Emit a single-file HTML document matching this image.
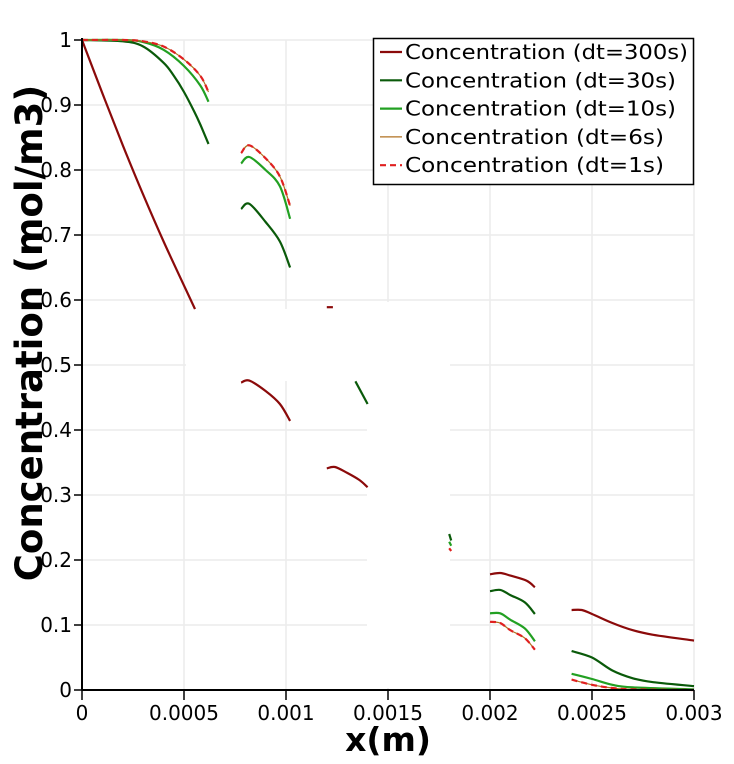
<!DOCTYPE html>
<html><head><meta charset="utf-8">
<style>
html,body{margin:0;padding:0;background:#fff;}
svg{display:block;font-family:"DejaVu Sans","Liberation Sans",sans-serif;}
</style></head>
<body>
<svg id="chart" width="734" height="764" viewBox="0 0 734 764" xmlns="http://www.w3.org/2000/svg">
  <g id="grid"></g>
  <g id="masks">
    <rect x="186" y="309" width="181" height="72" fill="#fff"/>
    <rect x="367" y="302" width="83" height="386" fill="#fff"/>
  </g>
  <g id="series"></g>
  <g id="axes"></g>
  <text x="388" y="751" text-anchor="middle" font-size="33" font-weight="bold" font-family="DejaVu Sans, sans-serif">x(m)</text>
  <text transform="translate(42,333) rotate(-90)" text-anchor="middle" font-size="37" font-weight="bold" font-family="DejaVu Sans, sans-serif">Concentration (mol/m3)</text>
  <g id="legend">
    <rect x="373.5" y="38.5" width="320" height="146" fill="#fff" stroke="#000" stroke-width="1.5"/>
  </g>
</svg>
<script>
const xTicks = [0, 0.0005, 0.001, 0.0015, 0.002, 0.0025, 0.003];
const xTickLabels = ["0", "0.0005", "0.001", "0.0015", "0.002", "0.0025", "0.003"];
const yTicks = [0, 0.1, 0.2, 0.3, 0.4, 0.5, 0.6, 0.7, 0.8, 0.9, 1];
const yTickLabels = ["0", "0.1", "0.2", "0.3", "0.4", "0.5", "0.6", "0.7", "0.8", "0.9", "1"];
const seriesNames = ["Concentration (dt=300s)", "Concentration (dt=30s)", "Concentration (dt=10s)", "Concentration (dt=6s)", "Concentration (dt=1s)"];

const dt300 = [
  [[0,1],[0.0001,0.918],[0.0002,0.838],[0.0003,0.762],[0.0004,0.69],[0.000554,0.586]],
  [[0.00078,0.473],[0.00082,0.476],[0.0009,0.46],[0.00097,0.44],[0.00102,0.414]],
  [[0.00120,0.589],[0.00123,0.589]],
  [[0.00120,0.341],[0.00124,0.343],[0.0013,0.334],[0.00136,0.323],[0.0014,0.312]],
  [[0.002,0.178],[0.00205,0.18],[0.0021,0.176],[0.00218,0.168],[0.00222,0.158]],
  [[0.0024,0.123],[0.00245,0.123],[0.0025,0.117],[0.0026,0.103],[0.0027,0.092],[0.0028,0.085],[0.003,0.076]]
];
const dt30 = [
  [[0,1],[0.0002,0.998],[0.0003,0.99],[0.0004,0.965],[0.00045,0.945],[0.0005,0.92],[0.00055,0.89],[0.00058,0.87],[0.00062,0.84]],
  [[0.00078,0.74],[0.00082,0.748],[0.0009,0.72],[0.00097,0.69],[0.00102,0.65]],
  [[0.00134,0.475],[0.0014,0.44]],
  [[0.0018,0.24],[0.00181,0.23]],
  [[0.002,0.152],[0.00205,0.154],[0.0021,0.146],[0.00217,0.135],[0.00222,0.117]],
  [[0.0024,0.06],[0.0025,0.05],[0.0026,0.03],[0.0027,0.018],[0.0028,0.012],[0.003,0.006]]
];
const dt10 = [
  [[0,1],[0.0002,1],[0.0003,0.997],[0.0004,0.985],[0.0005,0.96],[0.00058,0.93],[0.00062,0.905]],
  [[0.00078,0.81],[0.00082,0.82],[0.0009,0.8],[0.00097,0.775],[0.00102,0.725]],
  [[0.0018,0.228],[0.00181,0.222]],
  [[0.002,0.118],[0.00205,0.118],[0.0021,0.108],[0.00217,0.095],[0.00222,0.075]],
  [[0.0024,0.025],[0.0025,0.017],[0.0026,0.008],[0.0027,0.004],[0.003,0.001]]
];
const dt6 = [
  [[0,1],[0.0002,1],[0.0003,0.998],[0.0004,0.99],[0.0005,0.97],[0.00058,0.945],[0.00062,0.92]],
  [[0.00078,0.826],[0.00082,0.838],[0.0009,0.818],[0.00097,0.79],[0.00102,0.745]],
  [[0.0018,0.218],[0.00181,0.214]],
  [[0.002,0.105],[0.00205,0.103],[0.0021,0.092],[0.00217,0.08],[0.00222,0.062]],
  [[0.0024,0.016],[0.0025,0.008],[0.0026,0.003],[0.0027,0.001],[0.003,0]]
];
const dt1 = [
  [[0,1],[0.0002,1],[0.0003,0.998],[0.0004,0.99],[0.0005,0.97],[0.00058,0.945],[0.00062,0.92]],
  [[0.00078,0.826],[0.00082,0.838],[0.0009,0.818],[0.00097,0.79],[0.00102,0.745]],
  [[0.0018,0.218],[0.00181,0.214]],
  [[0.002,0.105],[0.00205,0.103],[0.0021,0.092],[0.00217,0.08],[0.00222,0.062]],
  [[0.0024,0.016],[0.0025,0.008],[0.0026,0.003],[0.0027,0.001],[0.003,0]]
];

const NS = "http://www.w3.org/2000/svg";
const X0 = 82, X1 = 694, Y0 = 690, Y1 = 40;
function xs(v){ return X0 + (v - 0) / 0.003 * (X1 - X0); }
function ys(v){ return Y0 - v * (Y0 - Y1); }
function mk(tag, attrs, parent){
  const e = document.createElementNS(NS, tag);
  for (const k in attrs) e.setAttribute(k, attrs[k]);
  parent.appendChild(e);
  return e;
}
function smoothPath(pts){
  if (pts.length < 3) return 'M' + pts.map(p => p[0].toFixed(1) + ',' + p[1].toFixed(1)).join(' L');
  let d = 'M' + pts[0][0].toFixed(1) + ',' + pts[0][1].toFixed(1);
  for (let i = 0; i < pts.length - 1; i++) {
    const p0 = pts[Math.max(0, i - 1)], p1 = pts[i], p2 = pts[i + 1], p3 = pts[Math.min(pts.length - 1, i + 2)];
    const c1x = p1[0] + (p2[0] - p0[0]) / 6, c1y = p1[1] + (p2[1] - p0[1]) / 6;
    const c2x = p2[0] - (p3[0] - p1[0]) / 6, c2y = p2[1] - (p3[1] - p1[1]) / 6;
    d += ' C' + c1x.toFixed(1) + ',' + c1y.toFixed(1) + ' ' + c2x.toFixed(1) + ',' + c2y.toFixed(1) + ' ' + p2[0].toFixed(1) + ',' + p2[1].toFixed(1);
  }
  return d;
}
const grid = document.getElementById('grid');
const axes = document.getElementById('axes');
const seriesG = document.getElementById('series');
const legend = document.getElementById('legend');

xTicks.forEach((t, i) => {
  if (i > 0) {
    const g = mk('line', {x1: xs(t), x2: xs(t), y1: Y1, y2: Y0, stroke: '#ececec', 'stroke-width': 1.5}, grid);
    
    
  }
  const tk = mk('line', {x1: xs(t), x2: xs(t), y1: Y0, y2: Y0 + 10, stroke: '#000', 'stroke-width': 1.5}, axes);
  
  
  const lb = mk('text', {x: xs(t), y: Y0 + 30, 'text-anchor': 'middle', 'font-size': 20}, axes);
  lb.textContent = xTickLabels[i];
  
  
});
yTicks.forEach((t, i) => {
  if (i > 0) {
    const g = mk('line', {x1: X0, x2: X1, y1: ys(t), y2: ys(t), stroke: '#ececec', 'stroke-width': 1.5}, grid);
    
    
  }
  const tk = mk('line', {x1: X0 - 8, x2: X0, y1: ys(t), y2: ys(t), stroke: '#000', 'stroke-width': 1.5}, axes);
  
  
  const lb = mk('text', {x: X0 - 10, y: ys(t) + 7, 'text-anchor': 'end', 'font-size': 20}, axes);
  lb.textContent = yTickLabels[i];
  
  
});
const xa = mk('line', {x1: X0, x2: X1, y1: Y0, y2: Y0, stroke: '#000', 'stroke-width': 2}, axes);


const ya = mk('line', {x1: X0, x2: X0, y1: Y1 - 2, y2: Y0, stroke: '#000', 'stroke-width': 2}, axes);



const legendTextWidths = [283, 271, 271, 259, 259];
const seriesList = [
  {data: dt300, color: '#8b0a0a', w: 2.2, dash: null, name: 'series-dt300'},
  {data: dt30, color: '#0a5a0a', w: 2.2, dash: null, name: 'series-dt30'},
  {data: dt10, color: '#22a022', w: 2.2, dash: null, name: 'series-dt10'},
  {data: dt6, color: '#b07020', w: 1.2, dash: null, name: 'series-dt6'},
  {data: dt1, color: '#e02020', w: 2.2, dash: '6,4', name: 'series-dt1'}
];
seriesList.forEach((s, si) => {
  s.data.forEach(seg => {
    const pts = seg.map(p => [xs(p[0]), ys(p[1])]);
    const attrs = {d: smoothPath(pts), fill: 'none', stroke: s.color, 'stroke-width': s.w, 'stroke-linejoin': 'round'};
    if (s.dash) attrs['stroke-dasharray'] = s.dash;
    const pl = mk('path', attrs, seriesG);
    
    
  });
  const ly = 52 + si * 28.3;
  const la = {x1: 380, x2: 402, y1: ly, y2: ly, stroke: s.color, 'stroke-width': s.w};
  if (s.dash) la['stroke-dasharray'] = '6,4';
  const ll = mk('line', la, legend);
  
  
  const lt = mk('text', {x: 405, y: ly + 7, 'font-size': 20, textLength: legendTextWidths[si], lengthAdjust: 'spacingAndGlyphs'}, legend);
  lt.textContent = seriesNames[si];
  
  
});
</script>
</body></html>
